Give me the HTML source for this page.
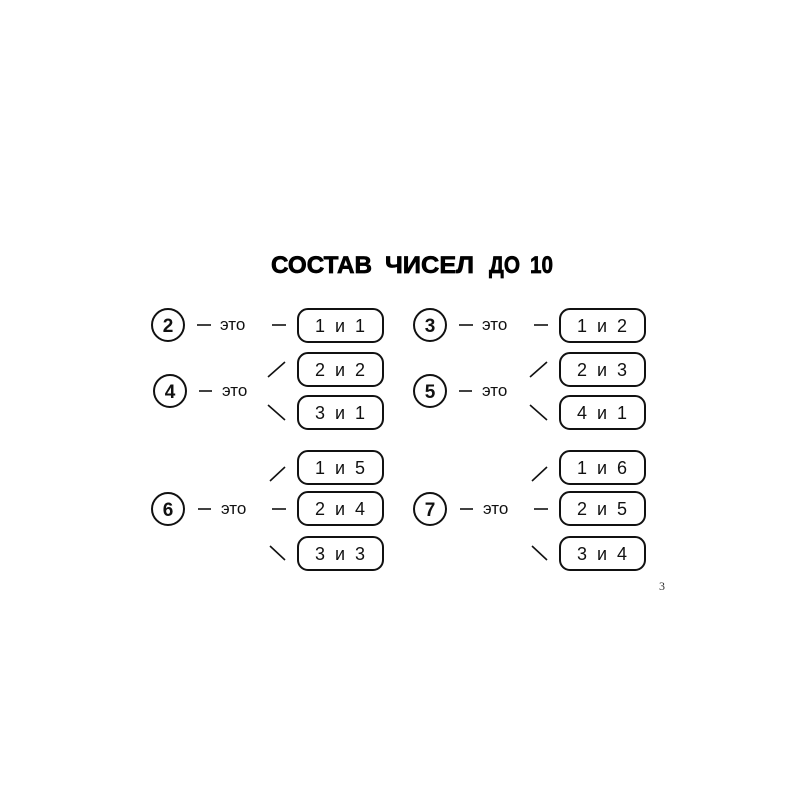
<!DOCTYPE html>
<html><head><meta charset="utf-8"><style>
html,body{margin:0;padding:0;background:#fff;}
svg{display:block;}
.t{font-family:"Liberation Sans",sans-serif;font-size:18px;fill:#111;}
.n{font-family:"Liberation Sans",sans-serif;font-size:19px;font-weight:bold;fill:#111;}
.e{font-family:"Liberation Sans",sans-serif;font-size:17px;fill:#111;}
.h{font-family:"Liberation Sans",sans-serif;font-weight:bold;font-size:24px;stroke:#000;stroke-width:0.7;fill:#000;}
</style></head><body>
<svg width="800" height="800" viewBox="0 0 800 800" xmlns="http://www.w3.org/2000/svg">
<text class="h" x="271" y="273" textLength="101" lengthAdjust="spacingAndGlyphs">СОСТАВ</text>
<text class="h" x="385" y="273" textLength="89" lengthAdjust="spacingAndGlyphs">ЧИСЕЛ</text>
<text class="h" x="489" y="273" textLength="31" lengthAdjust="spacingAndGlyphs">ДО</text>
<text class="h" x="530" y="273" textLength="23" lengthAdjust="spacingAndGlyphs">10</text>
<!-- left column -->
<g>
 <circle cx="168" cy="325" r="16" fill="none" stroke="#111" stroke-width="2"/>
 <text class="n" x="168" y="332" text-anchor="middle">2</text>
 <line x1="197" y1="325" x2="211" y2="325" stroke="#111" stroke-width="1.6"/>
 <text class="e" x="220" y="330">это</text>
 <line x1="272" y1="325" x2="286" y2="325" stroke="#111" stroke-width="1.6"/>
 <rect x="298" y="309" width="85" height="33" rx="10" fill="none" stroke="#111" stroke-width="2"/>
 <text class="t" x="340" y="332" text-anchor="middle" xml:space="preserve">1  и  1</text>

 <circle cx="170" cy="391" r="16" fill="none" stroke="#111" stroke-width="2"/>
 <text class="n" x="170" y="398" text-anchor="middle">4</text>
 <line x1="199" y1="391" x2="212" y2="391" stroke="#111" stroke-width="1.6"/>
 <text class="e" x="222" y="396">это</text>
 <line x1="268" y1="377" x2="285" y2="362" stroke="#111" stroke-width="1.6"/>
 <line x1="268" y1="405" x2="285" y2="420" stroke="#111" stroke-width="1.6"/>
 <rect x="298" y="353" width="85" height="33" rx="10" fill="none" stroke="#111" stroke-width="2"/>
 <text class="t" x="340" y="376" text-anchor="middle" xml:space="preserve">2  и  2</text>
 <rect x="298" y="396" width="85" height="33" rx="10" fill="none" stroke="#111" stroke-width="2"/>
 <text class="t" x="340" y="419" text-anchor="middle" xml:space="preserve">3  и  1</text>

 <circle cx="168" cy="509" r="16" fill="none" stroke="#111" stroke-width="2"/>
 <text class="n" x="168" y="516" text-anchor="middle">6</text>
 <line x1="198" y1="509" x2="211" y2="509" stroke="#111" stroke-width="1.6"/>
 <text class="e" x="221" y="514">это</text>
 <line x1="270" y1="481" x2="285" y2="467" stroke="#111" stroke-width="1.6"/>
 <line x1="272" y1="509" x2="286" y2="509" stroke="#111" stroke-width="1.6"/>
 <line x1="270" y1="546" x2="285" y2="560" stroke="#111" stroke-width="1.6"/>
 <rect x="298" y="451" width="85" height="33" rx="10" fill="none" stroke="#111" stroke-width="2"/>
 <text class="t" x="340" y="474" text-anchor="middle" xml:space="preserve">1  и  5</text>
 <rect x="298" y="492" width="85" height="33" rx="10" fill="none" stroke="#111" stroke-width="2"/>
 <text class="t" x="340" y="515" text-anchor="middle" xml:space="preserve">2  и  4</text>
 <rect x="298" y="537" width="85" height="33" rx="10" fill="none" stroke="#111" stroke-width="2"/>
 <text class="t" x="340" y="560" text-anchor="middle" xml:space="preserve">3  и  3</text>
</g>
<!-- right column -->
<g transform="translate(262,0)">
 <circle cx="168" cy="325" r="16" fill="none" stroke="#111" stroke-width="2"/>
 <text class="n" x="168" y="332" text-anchor="middle">3</text>
 <line x1="197" y1="325" x2="211" y2="325" stroke="#111" stroke-width="1.6"/>
 <text class="e" x="220" y="330">это</text>
 <line x1="272" y1="325" x2="286" y2="325" stroke="#111" stroke-width="1.6"/>
 <rect x="298" y="309" width="85" height="33" rx="10" fill="none" stroke="#111" stroke-width="2"/>
 <text class="t" x="340" y="332" text-anchor="middle" xml:space="preserve">1  и  2</text>

 <circle cx="168" cy="391" r="16" fill="none" stroke="#111" stroke-width="2"/>
 <text class="n" x="168" y="398" text-anchor="middle">5</text>
 <line x1="197" y1="391" x2="210" y2="391" stroke="#111" stroke-width="1.6"/>
 <text class="e" x="220" y="396">это</text>
 <line x1="268" y1="377" x2="285" y2="362" stroke="#111" stroke-width="1.6"/>
 <line x1="268" y1="405" x2="285" y2="420" stroke="#111" stroke-width="1.6"/>
 <rect x="298" y="353" width="85" height="33" rx="10" fill="none" stroke="#111" stroke-width="2"/>
 <text class="t" x="340" y="376" text-anchor="middle" xml:space="preserve">2  и  3</text>
 <rect x="298" y="396" width="85" height="33" rx="10" fill="none" stroke="#111" stroke-width="2"/>
 <text class="t" x="340" y="419" text-anchor="middle" xml:space="preserve">4  и  1</text>

 <circle cx="168" cy="509" r="16" fill="none" stroke="#111" stroke-width="2"/>
 <text class="n" x="168" y="516" text-anchor="middle">7</text>
 <line x1="198" y1="509" x2="211" y2="509" stroke="#111" stroke-width="1.6"/>
 <text class="e" x="221" y="514">это</text>
 <line x1="270" y1="481" x2="285" y2="467" stroke="#111" stroke-width="1.6"/>
 <line x1="272" y1="509" x2="286" y2="509" stroke="#111" stroke-width="1.6"/>
 <line x1="270" y1="546" x2="285" y2="560" stroke="#111" stroke-width="1.6"/>
 <rect x="298" y="451" width="85" height="33" rx="10" fill="none" stroke="#111" stroke-width="2"/>
 <text class="t" x="340" y="474" text-anchor="middle" xml:space="preserve">1  и  6</text>
 <rect x="298" y="492" width="85" height="33" rx="10" fill="none" stroke="#111" stroke-width="2"/>
 <text class="t" x="340" y="515" text-anchor="middle" xml:space="preserve">2  и  5</text>
 <rect x="298" y="537" width="85" height="33" rx="10" fill="none" stroke="#111" stroke-width="2"/>
 <text class="t" x="340" y="560" text-anchor="middle" xml:space="preserve">3  и  4</text>
</g>
<text x="662" y="590" font-family="Liberation Serif, serif" font-size="12" fill="#333" text-anchor="middle">3</text>
</svg>
</body></html>
